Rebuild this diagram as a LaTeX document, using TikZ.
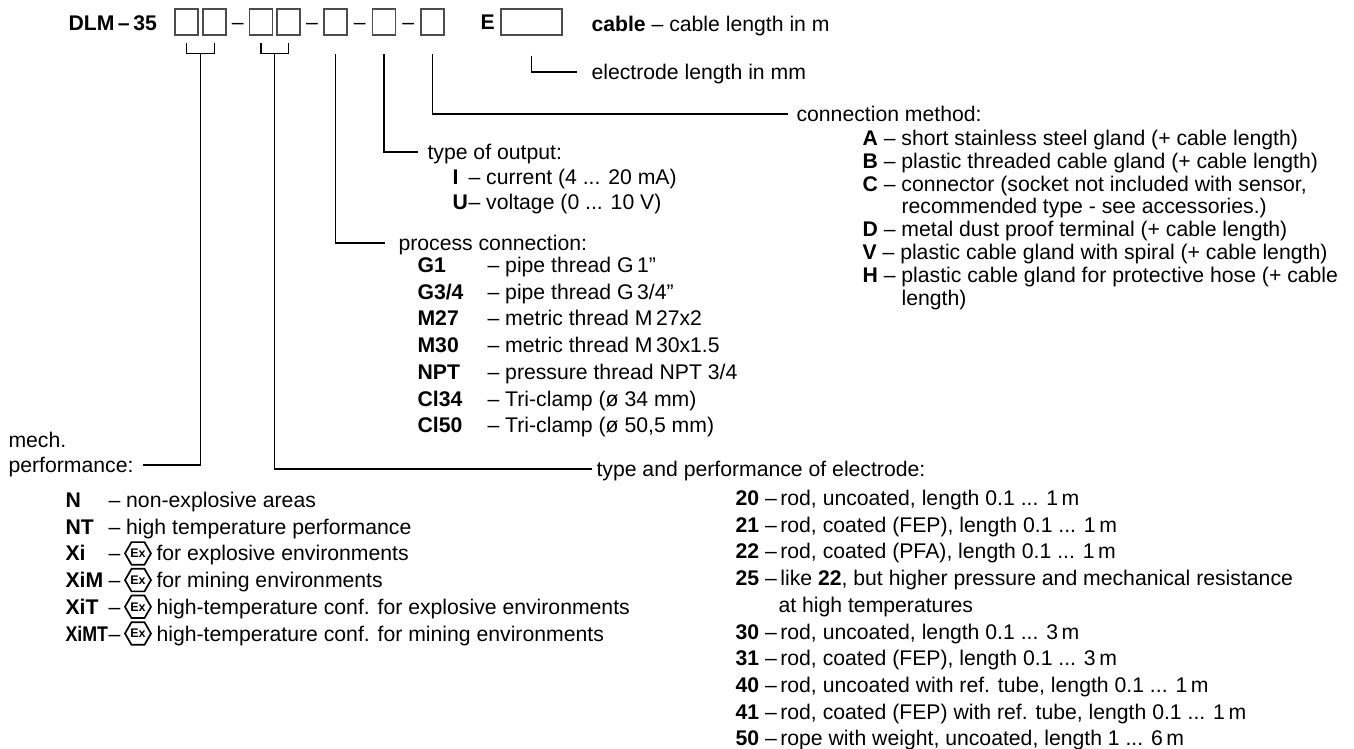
\documentclass[tikz,border=0pt]{standalone}
\usepackage{fontspec}
\setmainfont{Liberation Sans}
\usetikzlibrary{calc,shapes.geometric}

\begin{document}
\begin{tikzpicture}[x=1pt, y=-1pt, line width=1.1pt,
  txt/.style={anchor=west, inner sep=0pt, text height=15pt, text depth=0pt, font=\fontsize{21.2}{26.7}\selectfont},
  bold/.style={txt, font=\fontsize{21.2}{26.7}\selectfont\bfseries},
  mid/.style={txt, anchor=center},
  slot/.style={draw=black!70, line width=1.2pt, minimum width=23pt, minimum height=26pt, inner sep=0pt},
  exsign/.style={draw, line width=1.7pt, regular polygon, regular polygon sides=6, minimum size=26pt, inner sep=0pt, font=\fontsize{12.5}{12.5}\selectfont\bfseries}]
\useasboundingbox (0,0) rectangle (1354,749);
% Code
\node[bold] (code) at (68,23) {DLM\,–\,35};
\node[slot] (b1) at (186.5,22) {};
\node[slot] (b2) at (214.5,22) {};
\node[slot] (b3) at (261,22) {};
\node[slot] (b4) at (288.5,22) {};
\node[slot] (b5) at (335.5,22) {};
\node[slot] (b6) at (384,22) {};
\node[slot] (b7) at (432.5,22) {};
\node[mid] (d1) at ($(b2.east)!0.5!(b3.west)$) {–};
\node[mid] (d2) at ($(b4.east)!0.5!(b5.west)$) {–};
\node[mid] (d3) at ($(b5.east)!0.5!(b6.west)$) {–};
\node[mid] (d4) at ($(b6.east)!0.5!(b7.west)$) {–};
\node[bold] (e) at (480,22) {E};
\node[slot, minimum width=61pt] (blen) at (531.5,22) {};
% Cable and electrode length
\node[txt] (cab) at (591,24) {\textbf{cable} – cable length in m};
\node[txt] (elen) at (591,72) {electrode length in mm};
\draw ([yshift=-20pt]blen.south) |- ([xshift=-14pt]elen.west);
% Connection method
\node[txt] (conn) at (796,114) {connection method:};
\node[txt] (cA) at (862,138) {\textbf{A} – short stainless steel gland (+ cable length)};
\node[txt] (cB) at (862,160.8) {\textbf{B} – plastic threaded cable gland (+ cable length)};
\node[txt] (cC) at (862,183.6) {\textbf{C} – connector (socket not included with sensor,};
\node[txt] (cC2) at (901,206.4) {recommended type - see accessories.)};
\node[txt] (cD) at (862,229.2) {\textbf{D} – metal dust proof terminal (+ cable length)};
\node[txt] (cV) at (862,252) {\textbf{V} – plastic cable gland with spiral (+ cable length)};
\node[txt] (cH) at (862,274.8) {\textbf{H} – plastic cable gland for protective hose (+ cable};
\node[txt] (cH2) at (901,297.6) {length)};
\draw ([yshift=-18pt]b7.south) |- ([xshift=-8pt]conn.west);
% Output
\node[txt] (outp) at (427,152) {type of output:};
\node[txt] (oI) at (452,177) {\makebox[16pt][l]{\textbf{I}}– current (4 ... 20 mA)};
\node[txt] (oU) at (452,202) {\makebox[16pt][l]{\textbf{U}}– voltage (0 ... 10 V)};
\draw ([yshift=-18pt]b6.south) |- ([xshift=-9pt]outp.west);
% Process connection
\node[txt] (proc) at (398,243) {process connection:};
\node[txt] (pG1) at (417,265) {\makebox[70pt][l]{\textbf{G1}}– pipe thread G\,1"};
\node[txt] (pG34) at (417,291.7) {\makebox[70pt][l]{\textbf{G3/4}}– pipe thread G\,3/4”};
\node[txt] (pM27) at (417,318.4) {\makebox[70pt][l]{\textbf{M27}}– metric thread M\,27x2};
\node[txt] (pM30) at (417,345.1) {\makebox[70pt][l]{\textbf{M30}}– metric thread M\,30x1.5};
\node[txt] (pNPT) at (417,371.8) {\makebox[70pt][l]{\textbf{NPT}}– pressure thread NPT 3/4};
\node[txt] (pC34) at (417,398.5) {\makebox[70pt][l]{\textbf{Cl34}}– Tri-clamp (ø 34 mm)};
\node[txt] (pC50) at (417,425.2) {\makebox[70pt][l]{\textbf{Cl50}}– Tri-clamp (ø 50,5 mm)};
\draw ([yshift=-18pt]b5.south) |- ([xshift=-13pt]proc.west);
% Mech. performance
\node[txt] (mech) at (8,440) {mech.};
\node[txt] (perf) at (8,465) {performance:};
\node[txt] (mN) at (65,500) {\makebox[43pt][l]{\textbf{N}}– non-explosive areas};
\node[txt] (mNT) at (65,526.7) {\makebox[43pt][l]{\textbf{NT}}– high temperature performance};
\node[txt] (mXi) at (65,553.4) {\makebox[43pt][l]{\textbf{Xi}}–};
\node[txt] (mXiM) at (65,580.1) {\makebox[43pt][l]{\textbf{XiM}}–};
\node[txt] (mXiT) at (65,606.8) {\makebox[43pt][l]{\textbf{XiT}}–};
\node[txt] (mXiMT) at (65,633.5) {\makebox[43pt][l]{\scalebox{0.84}[1]{\textbf{XiMT}}}–};
\node[exsign] (ex1) at (138,553.4) {Ex};
\node[exsign] (ex2) at (138,580.1) {Ex};
\node[exsign] (ex3) at (138,606.8) {Ex};
\node[exsign] (ex4) at (138,633.5) {Ex};
\node[txt] (tXi) at (156,553.4) {for explosive environments};
\node[txt] (tXiM) at (156,580.1) {for mining environments};
\node[txt] (tXiT) at (156,606.8) {high-temperature conf. for explosive environments};
\node[txt] (tXiMT) at (156,633.5) {high-temperature conf. for mining environments};
\draw ([yshift=-7pt]b1.south) -- ++(0,11) coordinate (k1) -| ([yshift=-7pt]b2.south);
\draw ($(k1)!0.5!([yshift=-18pt]b2.south)$) |- ([xshift=9pt]perf.east);
% Electrode
\node[txt] (elec) at (596,469) {type and performance of electrode:};
\node[txt] (r20) at (735,498) {\textbf{20} –\,rod, uncoated, length 0.1 ... 1\,m};
\node[txt] (r21) at (735,524.7) {\textbf{21} –\,rod, coated (FEP), length 0.1 ... 1\,m};
\node[txt] (r22) at (735,551.4) {\textbf{22} –\,rod, coated (PFA), length 0.1 ... 1\,m};
\node[txt] (r25) at (735,578.1) {\textbf{25} –\,like \textbf{22}, but higher pressure and mechanical resistance};
\node[txt] (r25b) at (778,604.8) {at high temperatures};
\node[txt] (r30) at (735,631.5) {\textbf{30} –\,rod, uncoated, length 0.1 ... 3\,m};
\node[txt] (r31) at (735,658.2) {\textbf{31} –\,rod, coated (FEP), length 0.1 ... 3\,m};
\node[txt] (r40) at (735,684.9) {\textbf{40} –\,rod, uncoated with ref. tube, length 0.1 ... 1\,m};
\node[txt] (r41) at (735,711.6) {\textbf{41} –\,rod, coated (FEP) with ref. tube, length 0.1 ... 1\,m};
\node[txt] (r50) at (735,738.3) {\textbf{50} –\,rope with weight, uncoated, length 1 ... 6\,m};
\draw ([yshift=-7pt]b3.south) -- ++(0,11) coordinate (k2) -| ([yshift=-7pt]b4.south);
\draw ($(k2)!0.5!([yshift=-18pt]b4.south)$) |- ([xshift=-4pt]elec.west);
\end{tikzpicture}
\end{document}
